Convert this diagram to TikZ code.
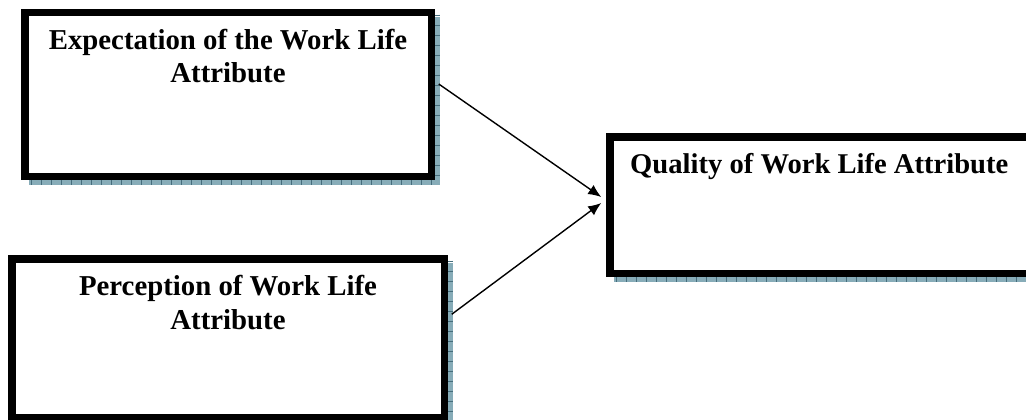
\documentclass[tikz,border=0pt]{standalone}
\usepackage{fontspec}
\setmainfont{Liberation Serif}
\usetikzlibrary{arrows.meta}

\definecolor{shadowfill}{RGB}{135,172,184}
\definecolor{shadowtick}{RGB}{70,110,125}

\tikzset{
  attrbox/.style={draw=black, line width=7.5pt, fill=white, rectangle,
    inner sep=0pt, anchor=center},
  boxtext/.style={font=\fontsize{28.8}{33}\selectfont\bfseries, inner sep=0pt,
    align=center},
  link/.style={line width=1.4pt, -{Latex[length=13pt,width=11pt]}},
}

% hatched shadow strip under and to the right of a box
\newcommand{\boxshade}[1]{%
  \fill[shadowfill] ([shift={(4pt,0pt)}]#1.south west) rectangle ([shift={(8.75pt,-8.75pt)}]#1.south east);
  \fill[shadowfill] ([shift={(0pt,-4pt)}]#1.north east) rectangle ([shift={(8.75pt,-8.75pt)}]#1.south east);
  \draw[shadowtick, line width=5pt, dash pattern=on 1pt off 9pt]
    ([shift={(6pt,-6.25pt)}]#1.south west) -- ([shift={(6.25pt,-6.25pt)}]#1.south east);
  \draw[shadowtick, line width=5pt, dash pattern=on 1pt off 9pt]
    ([shift={(6.25pt,-2pt)}]#1.north east) -- ([shift={(6.25pt,-6.25pt)}]#1.south east);
}

\begin{document}
\begin{tikzpicture}[x=1pt, y=-1pt]
\clip (0,0) rectangle (1026,420);

% shadows first, boxes on top
\path (228,94.5) coordinate (c1) (228,338.25) coordinate (c2) (829.75,205) coordinate (c3);
\node[minimum width=406.5pt, minimum height=163.5pt, inner sep=0pt] (expectS) at (c1) {};
\node[minimum width=432.5pt, minimum height=159pt, inner sep=0pt] (perceptS) at (c2) {};
\node[minimum width=440pt, minimum height=136.5pt, inner sep=0pt] (qualityS) at (c3) {};
\boxshade{expectS}
\boxshade{perceptS}
\boxshade{qualityS}

% boxes
\node[attrbox, minimum width=406.5pt, minimum height=163.5pt] (expect) at (c1) {};
\node[attrbox, minimum width=432.5pt, minimum height=159pt] (percept) at (c2) {};
\node[attrbox, minimum width=440pt, minimum height=136.5pt] (quality) at (c3) {};

% labels
\node[boxtext, anchor=base] (expectA) at (228,50) {Expectation of the Work Life};
\node[boxtext, anchor=base] (expectB) at (228,82) {Attribute};
\node[boxtext, anchor=base] (perceptA) at (228,295) {Perception of Work Life};
\node[boxtext, anchor=base] (perceptB) at (228,329) {Attribute};
\node[boxtext, anchor=base west, font=\fontsize{28.6}{33}\selectfont\bfseries] (qualityA) at (630,173) {Quality of Work Life Attribute};

% connectors
\draw[link] ([shift={(3.75pt,10.5pt)}]expect.east) -- ([shift={(-4.75pt,8pt)}]quality.west);
\draw[link] ([shift={(3.75pt,24pt)}]percept.east) -- ([shift={(-4.75pt,2pt)}]quality.west);
\end{tikzpicture}
\end{document}
